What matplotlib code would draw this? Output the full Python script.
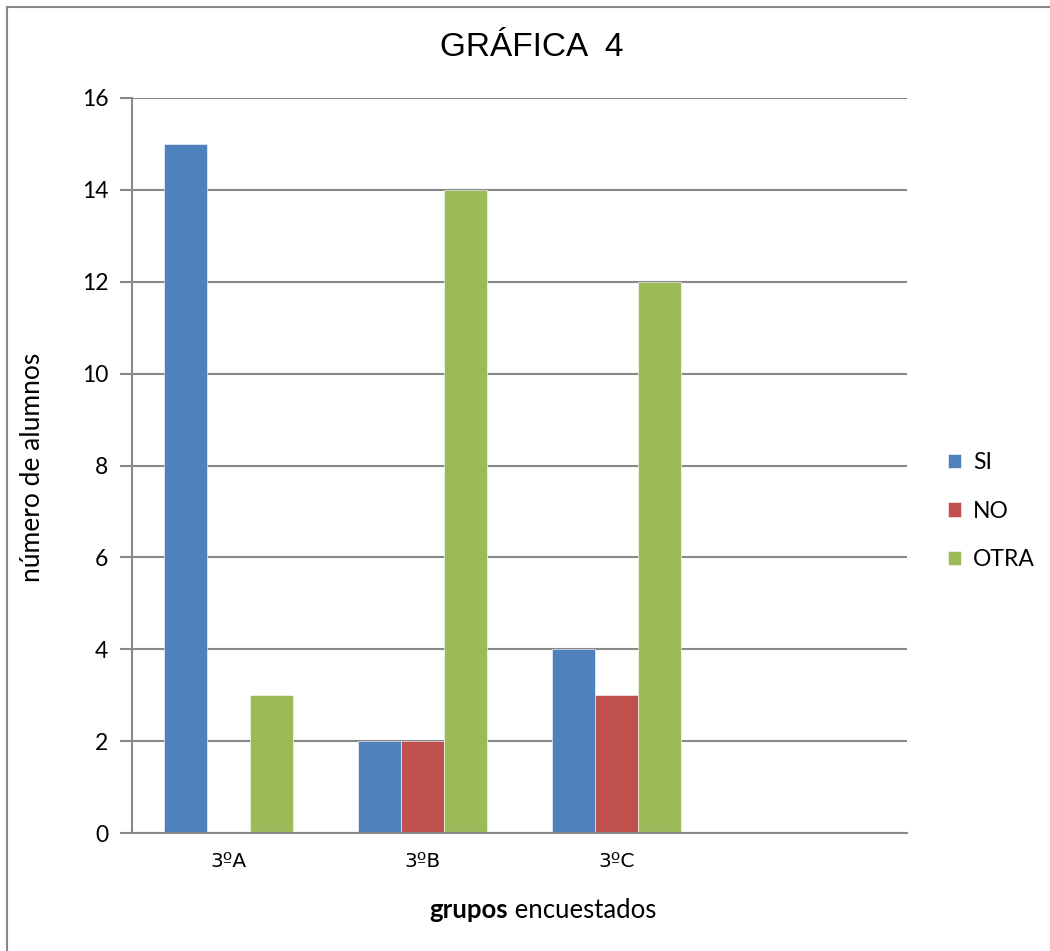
import matplotlib
matplotlib.use("Agg")
import matplotlib.pyplot as plt
import numpy as np
from matplotlib.lines import Line2D

categories = ["3ºA", "3ºB", "3ºC", ""]
series_names = ["SI", "NO", "OTRA"]
si_values = [15, 2, 4, 0]
no_values = [0, 2, 3, 0]
otra_values = [3, 14, 12, 0]
colors = ["#4F81BD", "#C0504D", "#9BBB59"]
yticks = [0, 2, 4, 6, 8, 10, 12, 14, 16]

plt.rcParams['font.family'] = ['Lato', 'DejaVu Sans']

fig = plt.figure(figsize=(10.5, 9.51), dpi=100)
W, H = 1050, 951
left, right, top, bottom = 132, 907, 98, 833
ax = fig.add_axes([left / W, 1 - bottom / H, (right - left) / W, (bottom - top) / H])

x = np.arange(len(categories))
bw = 1 / 4.5
data = [si_values, no_values, otra_values]
for i, (vals, c, name) in enumerate(zip(data, colors, series_names)):
    ax.bar(x + (i - 1) * bw, vals, width=bw, color=c, label=name, zorder=3,
           edgecolor="white", linewidth=0.4)

ax.set_xlim(-0.5, len(categories) - 0.5)
ax.set_ylim(0, 16)
ax.set_yticks(yticks)
ax.set_yticklabels([str(v) for v in yticks], fontsize=16.5)
ax.set_xticks(x)
ax.set_xticklabels(categories, fontsize=14.5, family=['DejaVu Sans'])
ax.tick_params(axis='x', length=0, pad=14)
ax.tick_params(axis='y', length=9, width=1.5, color="#888888", pad=8)
ax.yaxis.grid(True, color="#888888", linewidth=1.5, zorder=0)
ax.set_axisbelow(True)
for s in ["top", "right"]:
    ax.spines[s].set_visible(False)
for s in ["left", "bottom"]:
    ax.spines[s].set_color("#888888")
    ax.spines[s].set_linewidth(1.5)
    ax.spines[s].set_zorder(4)

fig.text(33 / W, 1 - 467 / H, "número de alumnos", fontsize=19, rotation=90,
         ha="center", va="center")
fig.text(508 / W, 1 - 910 / H, "grupos", fontsize=18.5, fontweight="bold",
         ha="right", va="center")
fig.text(508 / W, 1 - 910 / H, " encuestados", fontsize=18.5,
         ha="left", va="center")

fig.text(532 / W, 1 - 47 / H, "GRÁFICA  4",
         fontsize=24, ha="center", va="center",
         family=['Liberation Sans Narrow', 'Liberation Sans', 'DejaVu Sans'])

leg = ax.legend(loc="center left", bbox_to_anchor=(927 / W, 1 - 511 / H),
                bbox_transform=fig.transFigure, frameon=False, fontsize=16.5,
                handlelength=0.6, handleheight=0.6, handletextpad=0.5,
                labelspacing=1.2)

fig.add_artist(Line2D([7 / W, 7 / W], [0, 1 - 7 / H], transform=fig.transFigure,
                      color="#888888", linewidth=1.5))
fig.add_artist(Line2D([7 / W, 1], [1 - 7 / H, 1 - 7 / H], transform=fig.transFigure,
                      color="#888888", linewidth=1.5))

fig.savefig("out.png", dpi=100)
